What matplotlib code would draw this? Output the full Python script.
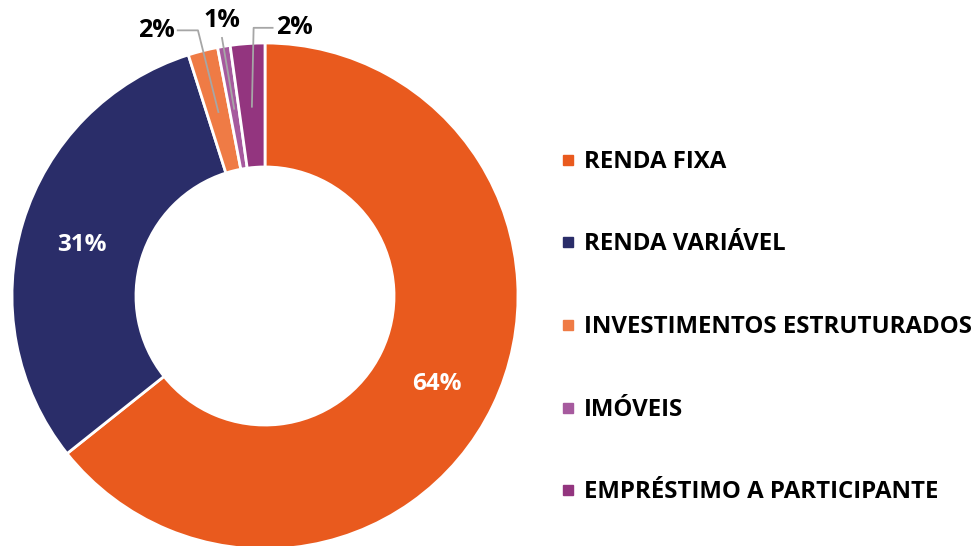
import numpy as np
import matplotlib
matplotlib.use("Agg")
import matplotlib.pyplot as plt

categories = ["RENDA FIXA", "RENDA VARIÁVEL", "INVESTIMENTOS ESTRUTURADOS", "IMÓVEIS", "EMPRÉSTIMO A PARTICIPANTE"]
shares = [64.3, 30.8, 1.9, 0.8, 2.2]
labels = ["64%", "31%", "2%", "1%", "2%"]
colors = ["#E95A1E", "#2A2D69", "#EF7B45", "#A65A9E", "#93357F"]

plt.rcParams["font.family"] = ["Open Sans", "DejaVu Sans"]

fig = plt.figure(figsize=(9.78, 5.46), dpi=100)
ax = fig.add_axes([12/978, -3/546, 506/978, 506/546])
wedges, _ = ax.pie(shares, colors=colors, startangle=90, counterclock=False,
                   radius=1, wedgeprops=dict(width=0.49, edgecolor="white", linewidth=2))
ax.set_xlim(-1, 1)
ax.set_ylim(-1, 1)
ax.set_aspect("equal")

def mid(w, r):
    a = np.deg2rad((w.theta1 + w.theta2) / 2)
    return r * np.cos(a), r * np.sin(a)

# inside labels
for i in (0, 1):
    x, y = mid(wedges[i], 0.755)
    ax.text(x, y - 0.02, labels[i], color="white", fontsize=17.5, fontweight="bold",
            ha="center", va="center")

# outside labels with grey leader lines
txt_pos = [(-0.43, 1.05), (-0.17, 1.09), (0.115, 1.06)]
elbow = [(-0.265, 1.05), None, (-0.045, 1.06)]
for k, i in enumerate((2, 3, 4)):
    px, py = mid(wedges[i], 0.75)
    tx, ty = txt_pos[k]
    if elbow[k] is None:
        ax.plot([px, -0.17], [py, 1.02], color="#A6A6A6", lw=1.3, clip_on=False)
    else:
        sx = tx + (0.085 if tx < 0 else -0.085)
        ax.plot([sx, elbow[k][0], px], [ty, elbow[k][1], py], color="#A6A6A6", lw=1.3, clip_on=False)
    ax.text(tx, ty, labels[i], color="black", fontsize=18, fontweight="bold",
            ha="center", va="center", clip_on=False)

# legend
ys = [160, 242, 325, 408, 490]
for c, name, yy in zip(colors, categories, ys):
    fy = 1 - yy / 546
    fig.patches.append(plt.Rectangle((563/978, fy - 5/546), 10/978, 10/546,
                                     transform=fig.transFigure, color=c))
    fig.text(584/978, fy - 2/546, name, fontsize=17.3, fontweight="bold", va="center", ha="left")

fig.savefig("out.png", dpi=100)
